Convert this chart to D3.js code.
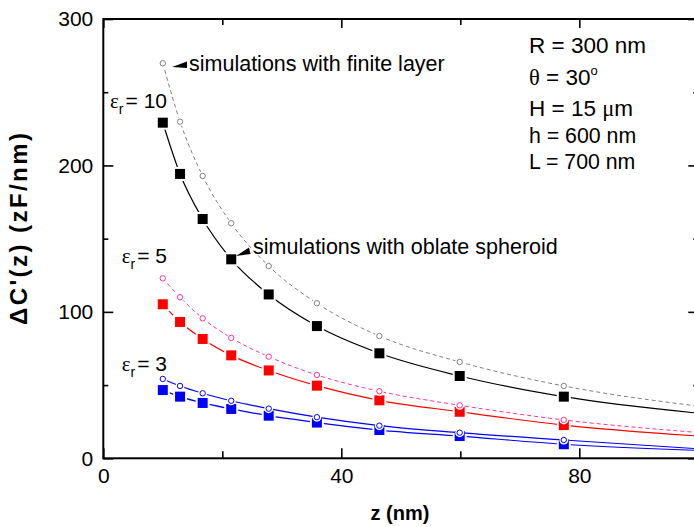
<!DOCTYPE html>
<html>
<head>
<meta charset="utf-8">
<script src="https://cdn.jsdelivr.net/npm/d3@7"></script>
<style>
  html, body { margin: 0; padding: 0; background: #fff; }
  svg { display: block; }
  text { font-family: "Liberation Sans", Arial, sans-serif; fill: #000; }
</style>
</head>
<body>
<svg id="chart" width="694" height="527"></svg>
<script>
// ---------------- data ----------------
const zValues = [10, 12.9, 16.7, 21.5, 27.8, 35.9, 46.4, 59.9, 77.4];
const eps10Spheroid = [229.2, 194.2, 163.4, 135.9, 111.9, 90.3, 71.7, 56.2, 42.1];
const eps10Layer    = [269.8, 229.9, 192.8, 160.5, 131.3, 105.9, 83.5, 65.8, 49.4];
const eps5Spheroid  = [105.2, 93.1, 81.5, 70.3, 60.0, 49.6, 39.6, 31.8, 22.7];
const eps5Layer     = [122.9, 110.0, 95.6, 82.2, 69.4, 56.9, 45.8, 36.2, 26.2];
const eps3Spheroid  = [46.6, 42.1, 37.8, 33.7, 29.1, 24.4, 19.3, 15.2, 9.6];
const eps3Layer     = [54.2, 49.4, 44.4, 39.3, 33.9, 28.1, 22.3, 17.5, 12.5];
// curve values at the right edge of the plot (z = 100)
const tailZ = 100;
const tailValues = [30.8, 35.6, 15.2, 17.6, 5.4, 6.5];
const xMajorTicks = [0, 40, 80];
const xMinorTicks = [20, 60];
const yMajorTicks = [0, 100, 200, 300];
const yMinorTicks = [50, 150, 250];
const paramLines = ["R = 300 nm", "θ = 30", "H = 15 μm", "h = 600 nm", "L = 700 nm"];

// ---------------- layout ----------------
const svg = d3.select("#chart");
const x = d3.scaleLinear().domain([0, 100]).range([103.3, 698.3]);
const y = d3.scaleLinear().domain([0, 300]).range([458.3, 19]);
const X0 = x.range()[0], X1 = x.range()[1], Y0 = y.range()[0], Y1 = y.range()[1];

const series = [
  { vals: eps10Spheroid, color: "#000000", dash: null, marker: "square", fillM: "#000000", width: 1.2 },
  { vals: eps10Layer,    color: "#808080", dash: "4,3", marker: "circle", fillM: "#ffffff", width: 1 },
  { vals: eps5Spheroid,  color: "#ff0000", dash: null, marker: "square", fillM: "#ff0000", width: 1.2 },
  { vals: eps5Layer,     color: "#ff3399", dash: "4,3", marker: "circle", fillM: "#ffffff", width: 1 },
  { vals: eps3Spheroid,  color: "#0000ff", dash: null, marker: "square", fillM: "#0000ff", width: 1.2 },
  { vals: eps3Layer,     color: "#0000ff", dash: null, marker: "circle", fillM: "#ffffff", width: 1.2 }
];

svg.append("clipPath").attr("id", "plotclip")
  .append("rect").attr("x", X0).attr("y", Y1).attr("width", X1 - X0).attr("height", Y0 - Y1);

const line = d3.line().x(d => x(d[0])).y(d => y(d[1])).curve(d3.curveMonotoneX);
const plot = svg.append("g").attr("clip-path", "url(#plotclip)");

series.forEach((s, i) => {
  const pts = zValues.map((z, k) => [z, s.vals[k]]);
  pts.push([tailZ, tailValues[i]]);
  const g = plot.append("g");
  g.append("path").attr("d", line(pts)).attr("fill", "none")
    .attr("stroke", s.color).attr("stroke-width", s.width)
    .attr("stroke-dasharray", s.dash);
  const mp = zValues.map((z, k) => [z, s.vals[k]]);
  if (s.marker === "square") {
    g.selectAll("rect.halo").data(mp).enter().append("rect")
      .attr("x", d => x(d[0]) - 7).attr("y", d => y(d[1]) - 7)
      .attr("width", 14).attr("height", 14).attr("fill", "#fff");
    g.selectAll("rect.m").data(mp).enter().append("rect")
      .attr("x", d => x(d[0]) - 5).attr("y", d => y(d[1]) - 5)
      .attr("width", 10).attr("height", 10).attr("fill", s.fillM);
  } else {
    g.selectAll("circle.halo").data(mp).enter().append("circle")
      .attr("cx", d => x(d[0])).attr("cy", d => y(d[1])).attr("r", 4.5).attr("fill", "#fff");
    g.selectAll("circle.m").data(mp).enter().append("circle")
      .attr("cx", d => x(d[0])).attr("cy", d => y(d[1])).attr("r", 2.7)
      .attr("fill", "#fff").attr("stroke", s.color).attr("stroke-width", 1);
  }
});

// ---------------- axes ----------------
const tickFont = "21px";
function styleAxis(g) {
  g.select(".domain").remove();
  g.selectAll("line").attr("stroke", "#000").attr("stroke-width", 1.6);
  g.selectAll("text").style("font-family", "Liberation Sans, Arial, sans-serif").style("font-size", tickFont).attr("fill", "#000");
}
svg.append("g").attr("transform", `translate(0,${Y0})`)
  .call(d3.axisBottom(x).tickValues(xMajorTicks).tickSize(-10).tickPadding(10).tickFormat(d3.format("d")))
  .call(styleAxis);
svg.append("g").attr("transform", `translate(0,${Y0})`)
  .call(d3.axisBottom(x).tickValues(xMinorTicks).tickSize(-7).tickFormat(""))
  .call(styleAxis);
svg.append("g").attr("transform", `translate(0,${Y1})`)
  .call(d3.axisTop(x).tickValues(xMajorTicks).tickSize(-9).tickFormat(""))
  .call(styleAxis);
svg.append("g").attr("transform", `translate(0,${Y1})`)
  .call(d3.axisTop(x).tickValues(xMinorTicks).tickSize(-6).tickFormat(""))
  .call(styleAxis);
svg.append("g").attr("transform", `translate(${X0},0)`)
  .call(d3.axisLeft(y).tickValues(yMajorTicks).tickSize(-10).tickPadding(10).tickFormat(d3.format("d")))
  .call(styleAxis);
svg.append("g").attr("transform", `translate(${X0},0)`)
  .call(d3.axisLeft(y).tickValues(yMinorTicks).tickSize(-5).tickFormat(""))
  .call(styleAxis);
svg.append("g").attr("transform", `translate(${X1},0)`)
  .call(d3.axisRight(y).tickValues(yMajorTicks).tickSize(-10).tickFormat(""))
  .call(styleAxis);
svg.append("g").attr("transform", `translate(${X1},0)`)
  .call(d3.axisRight(y).tickValues(yMinorTicks).tickSize(-5).tickFormat(""))
  .call(styleAxis);

svg.append("rect").attr("x", X0).attr("y", Y1).attr("width", X1 - X0).attr("height", Y0 - Y1)
  .attr("fill", "none").attr("stroke", "#000").attr("stroke-width", 2);

// axis titles
svg.append("text").attr("x", 400).attr("y", 520)
  .attr("text-anchor", "middle").style("font-size", "20px").style("font-weight", "bold")
  .text("z (nm)");
svg.append("text").attr("transform", "translate(27,229) rotate(-90)")
  .attr("text-anchor", "middle").style("font-size", "24px").style("font-weight", "bold")
  .attr("textLength", 192).attr("lengthAdjust", "spacing")
  .text("ΔC'(z) (zF/nm)");

// ---------------- annotations ----------------
function epsLabel(val, yb) {
  const t = svg.append("text").attr("x", 167).attr("y", yb).attr("text-anchor", "end");
  t.append("tspan").style("font-family", "Liberation Serif, serif").style("font-size", "21px").text("ε");
  t.append("tspan").style("font-size", "14px").attr("dy", 6).text("r");
  t.append("tspan").style("font-size", "21px").attr("dy", -6).attr("dx", 2).text("= " + val);
}
epsLabel("10", 108.3);
epsLabel("5", 263);
epsLabel("3", 371);

svg.append("path").attr("d", "M172,67 L187,61.5 L187,68 Z").attr("fill", "#000");
svg.append("text").attr("x", 189).attr("y", 71).style("font-size", "21.5px")
  .text("simulations with finite layer");
svg.append("path").attr("d", "M236,256 L249,247.5 L250.5,254 Z").attr("fill", "#000");
svg.append("text").attr("x", 253).attr("y", 254).style("font-size", "21.5px")
  .text("simulations with oblate spheroid");

const paramBase = [53, 85, 116, 143, 169];
const paramSize = [22.5, 22.5, 22.5, 21.3, 21.3];
paramLines.forEach((s, i) => {
  const t = svg.append("text").attr("x", 529).attr("y", paramBase[i]).style("font-size", paramSize[i] + "px");
  if (s.startsWith("θ")) {
    t.append("tspan").style("font-family", "Liberation Serif, serif").text("θ");
    t.append("tspan").text(s.slice(1));
    t.append("tspan").attr("dy", -10).style("font-size", "13px").text("o");
  } else if (s.indexOf("μ") >= 0) {
    const k = s.indexOf("μ");
    t.append("tspan").text(s.slice(0, k));
    t.append("tspan").style("font-family", "Liberation Serif, serif").text("μ");
    t.append("tspan").text(s.slice(k + 1));
  } else {
    t.text(s);
  }
});
</script>
</body>
</html>
